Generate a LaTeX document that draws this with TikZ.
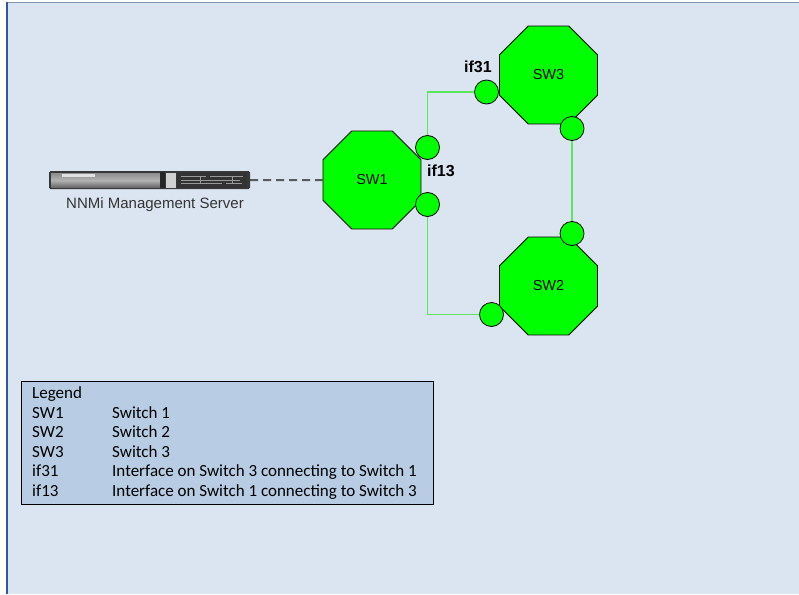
\documentclass[tikz,border=0pt]{standalone}
\usepackage{fontspec}
\setmainfont{Liberation Sans}
\newfontfamily\legendfont{Carlito}
\usetikzlibrary{shapes.geometric,backgrounds}
\definecolor{bgblue}{HTML}{DBE5F1}
\definecolor{legblue}{HTML}{B8CCE4}
\definecolor{edgeblue}{HTML}{2F5A9A}
\definecolor{topline}{HTML}{8497B0}
\definecolor{swgreen}{HTML}{00FF00}
\definecolor{linkgreen}{HTML}{5CE65C}
\definecolor{dashgray}{HTML}{5A5A5A}
\tikzset{
  swnode/.style={regular polygon, regular polygon sides=8, minimum size=106pt,
    inner sep=0pt, fill=swgreen, draw=black, line width=0.8pt,
    font=\fontsize{14.5}{16}\selectfont},
  ifnode/.style={circle, minimum size=24pt, inner sep=0pt, fill=swgreen,
    draw=black, line width=0.8pt},
  iflabel/.style={font=\bfseries\fontsize{16}{18}\selectfont, inner sep=0pt},
  link/.style={linkgreen, line width=1.5pt},
  mgmt/.style={dashgray, line width=2pt, dash pattern=on 8pt off 5pt},
  legtext/.style={anchor=base west, inner sep=0pt, font=\legendfont\fontsize{17}{19}\selectfont}
}
\begin{document}
\begin{tikzpicture}[x=1pt,y=-1pt]
\useasboundingbox (0,0) rectangle (799,594);
\begin{pgfonlayer}{background}
  \fill[white] (0,0) rectangle (799,594);
  \fill[bgblue] (6,2.5) rectangle (799,594);
  \draw[topline, line width=1.2pt] (6,2.5) -- (799,2.5);
  \draw[edgeblue, line width=2pt] (6.5,2) -- (6.5,594);
\end{pgfonlayer}

% switches
\node[swnode] (sw1) at (372,180) {SW1};
\node[swnode] (sw3) at (548.5,75) {SW3};
\node[swnode] (sw2) at (548.5,286) {SW2};

% interfaces
\node[ifnode] (i13) at (427.5,147.5) {};
\node[ifnode] (i1b) at (427.5,204.5) {};
\node[ifnode] (i31) at (486.5,92) {};
\node[ifnode] (i3b) at (572,128.5) {};
\node[ifnode] (i2t) at (572,233.5) {};
\node[ifnode] (i2b) at (491.5,314.5) {};

\node[iflabel] (l31) at (478,67) {if31};
\node[iflabel] (l13) at (441,171) {if13};

% server
\node[draw=none, fill=black!78, rounded corners=1.5pt, minimum width=201pt,
  minimum height=18pt, inner sep=0pt] (srv) at (149.5,180) {};
\shade[top color=black!45, bottom color=black!60, middle color=black!30]
  (51,173) rectangle (160,187.5);
\fill[black!12] (62,173.8) rectangle (95,177);
\fill[black!85] (160,172) rectangle (165,188);
\fill[black!18] (166,173) rectangle (176,188);
\fill[black!80] (177,173) rectangle (247,187.5);
\draw[black!40, line width=0.8pt] (181,176) -- (206,176) (210,176) -- (243,176)
  (181,180) -- (240,180) (181,183.5) -- (222,183.5) (226,183.5) -- (242,183.5);
\draw[black!40, line width=0.8pt] (200,176) -- (200,183.5) (232,176) -- (232,183.5);
\node[font=\fontsize{15}{17}\selectfont, text=black!80, inner sep=0pt]
  (srvlabel) at (155,205) {NNMi Management Server};

% links
\begin{pgfonlayer}{background}
  \draw[link] (i13.center) |- (i31.center);
  \draw[link] (i1b.center) |- (i2b.center);
  \draw[link] (i3b.center) -- (i2t.center);
  \draw[mgmt] (srv.east) -- (sw1.west);
\end{pgfonlayer}

% legend
\node[draw=black, line width=0.8pt, fill=legblue, minimum width=412pt,
  minimum height=123pt, inner sep=0pt, anchor=north west] (legend) at (21,380.5) {};
\foreach \y/\a/\b [count=\i] in {
  398/Legend/,
  418/SW1/Switch 1,
  437.5/SW2/Switch 2,
  457/SW3/Switch 3,
  476.5/if31/Interface on Switch 3 connecting to Switch 1,
  496/if13/Interface on Switch 1 connecting to Switch 3} {
  \node[legtext] (la\i) at (32,\y) {\a};
  \node[legtext] (lb\i) at (112,\y) {\b};
}
\end{tikzpicture}
\end{document}
